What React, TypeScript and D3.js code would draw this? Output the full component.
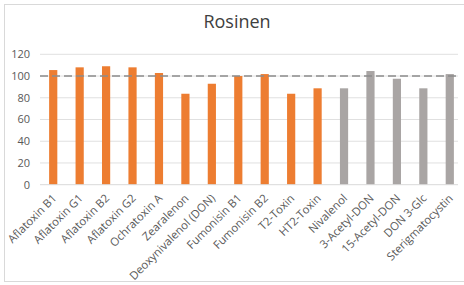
import React from "react";
import * as d3 from "d3";

const categories = [
  "Aflatoxin B1", "Aflatoxin G1", "Aflatoxin B2", "Aflatoxin G2", "Ochratoxin A",
  "Zearalenon", "Deoxynivalenol (DON)", "Fumonisin B1", "Fumonisin B2", "T2-Toxin",
  "HT2-Toxin", "Nivalenol", "3-Acetyl-DON", "15-Acetyl-DON", "DON 3-Glc", "Sterigmatocystin",
];
const values = [105.5, 108, 109, 108, 102.8, 83.7, 92.9, 100, 101.8, 83.7, 88.7, 88.7, 104.6, 97.5, 88.7, 101.8];
const groups = ["o", "o", "o", "o", "o", "o", "o", "o", "o", "o", "o", "g", "g", "g", "g", "g"];
const yTicks = [0, 20, 40, 60, 80, 100, 120];
const refValue = 100;
const title = "Rosinen";

const W = 464, H = 285;
const font = "'Open Sans', 'Noto Sans', sans-serif";

export default function App() {
  const x = d3.scaleBand<string>().domain(categories).range([40, 463]).paddingInner(0.69).paddingOuter(0.345);
  const y = d3.scaleLinear().domain([0, 120]).range([184.7, 54.3]);
  const color = (g: string) => (g === "o" ? "#ED7D31" : "#A9A5A4");
  return (
    <svg width={W} height={H} style={{ position: "absolute", left: 0, top: 0, background: "#fff" }}>
      <rect x={4.5} y={4.5} width={W + 10} height={277} fill="#fff" stroke="#d9d9d9" />
      <text x={237} y={28} textAnchor="middle" fontFamily={font} fontSize={18} fill="#404040">{title}</text>
      {yTicks.map((t) => (
        <g key={t}>
          {t !== 0 && <line x1={40} x2={458} y1={y(t)} y2={y(t)} stroke="#e0e0e0" strokeWidth={1} />}
          <text x={30} y={y(t)} dy="0.35em" textAnchor="end" fontFamily={font} fontSize={11} fill="#595959">{t}</text>
        </g>
      ))}
      {categories.map((c, i) => (
        <rect key={c} x={x(c)!} y={y(values[i])} width={x.bandwidth()} height={y(0) - y(values[i])} fill={color(groups[i])} />
      ))}
      <line x1={40} x2={458} y1={y(0)} y2={y(0)} stroke="#d9d9d9" strokeWidth={1} />
      <line x1={40} x2={458} y1={y(refValue)} y2={y(refValue)} stroke="#8c8c8c" strokeWidth={1.5} strokeDasharray="8,4" />
      {categories.map((c) => {
        const cx = x(c)! + x.bandwidth() / 2 + 4;
        const cy = 199;
        return (
          <text key={c} transform={`translate(${cx},${cy}) rotate(-45)`} textAnchor="end" fontFamily={font} fontSize={11.3} fill="#595959">{c}</text>
        );
      })}
    </svg>
  );
}
